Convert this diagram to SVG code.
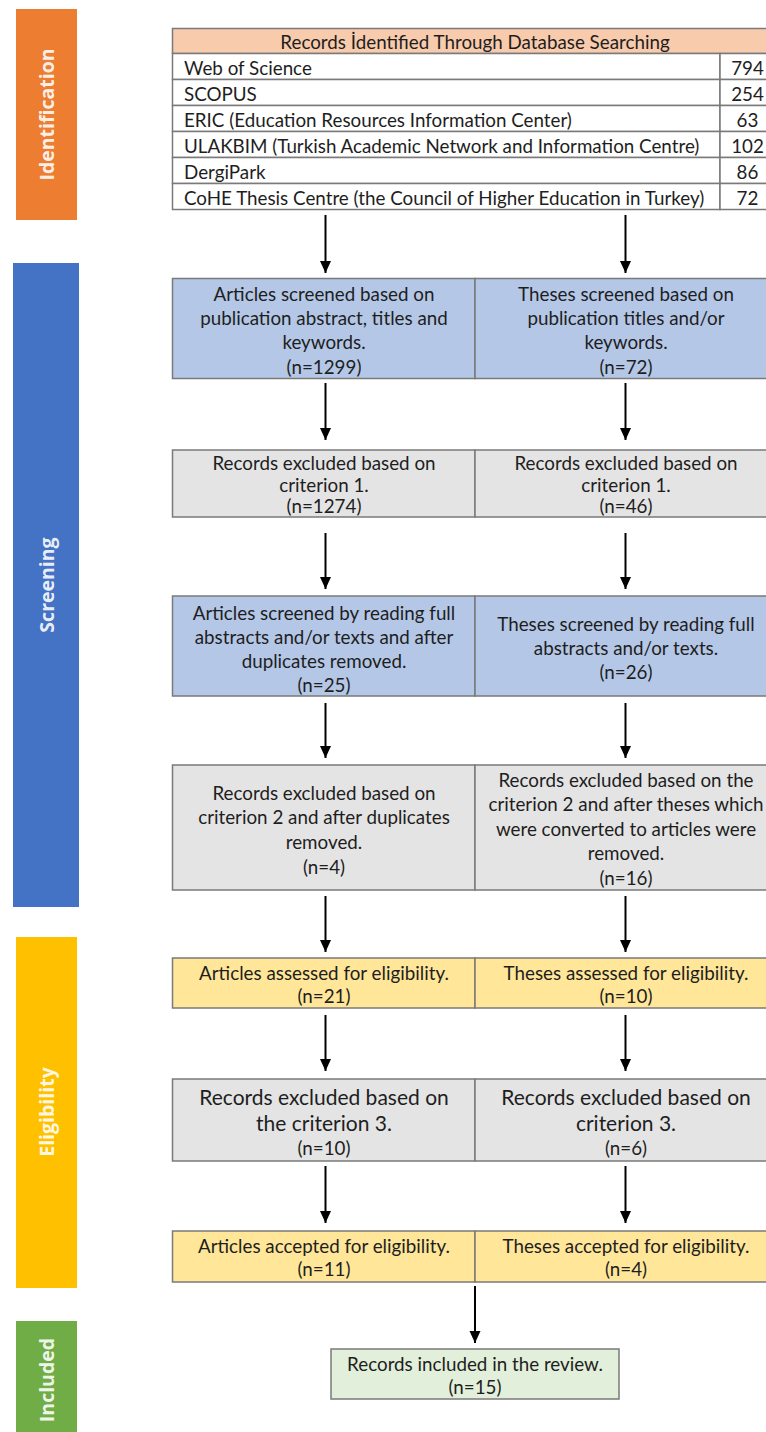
<svg xmlns="http://www.w3.org/2000/svg" width="766" height="1432" viewBox="0 0 766 1432">
<style>
.bar{stroke:none}
.bt{font-family:"Open Sans","Liberation Sans",sans-serif;font-weight:bold;font-size:19.5px;fill:#ffffff;fill-opacity:0.9;text-anchor:middle;dominant-baseline:central}
.cell{stroke:#7a7a7a;stroke-width:1.5}
.blue{fill:#b4c7e7}.gray{fill:#e4e4e4}.yel{fill:#ffe699}.grn{fill:#e2efda}.hdr{fill:#f8cbad}.wht{fill:#ffffff}
.t{font-family:Lato,"Liberation Sans",sans-serif;font-size:18.8px;fill:#1e1e1e;text-anchor:middle;dominant-baseline:central}
.tl{font-family:Lato,"Liberation Sans",sans-serif;font-size:18.8px;fill:#1e1e1e;dominant-baseline:central}
.tc{font-family:Lato,"Liberation Sans",sans-serif;font-size:18.8px;fill:#1e1e1e;text-anchor:middle;dominant-baseline:central}
.big{font-size:21px}
.arr{stroke:#000;stroke-width:2;fill:none;marker-end:url(#ah)}
</style>
<defs>
<marker id="ah" markerUnits="userSpaceOnUse" markerWidth="12" markerHeight="12" refX="12" refY="6" orient="auto">
<path d="M0,0.5 L12,6 L0,11.5 z" fill="#000"/>
</marker>
</defs>

<g id="phase-identification">
<rect class="bar" x="16" y="9" width="61" height="211" fill="#ed7d31"/>
<text class="bt" transform="translate(46.5,114.5) rotate(-90)">Identification</text>
</g>
<g id="phase-screening">
<rect class="bar" x="13" y="263" width="66" height="644" fill="#4472c4"/>
<text class="bt" transform="translate(46,585) rotate(-90)">Screening</text>
</g>
<g id="phase-eligibility">
<rect class="bar" x="16" y="937" width="61" height="351" fill="#ffc000"/>
<text class="bt" transform="translate(46.5,1112) rotate(-90)">Eligibility</text>
</g>
<g id="phase-included">
<rect class="bar" x="16" y="1321" width="61" height="120" fill="#70ad47"/>
<text class="bt" transform="translate(46.5,1380) rotate(-90)">Included</text>
</g>

<g id="records-table">
<rect class="cell hdr" x="172.5" y="28.5" width="606" height="25"/>
<text class="tc" x="475" y="41.5">Records İdentified Through Database Searching</text>
<rect class="cell wht" x="172.5" y="53.5" width="547.5" height="26"/><rect class="cell wht" x="720" y="53.5" width="58.5" height="26"/>
<rect class="cell wht" x="172.5" y="79.5" width="547.5" height="26"/><rect class="cell wht" x="720" y="79.5" width="58.5" height="26"/>
<rect class="cell wht" x="172.5" y="105.5" width="547.5" height="26"/><rect class="cell wht" x="720" y="105.5" width="58.5" height="26"/>
<rect class="cell wht" x="172.5" y="131.5" width="547.5" height="26"/><rect class="cell wht" x="720" y="131.5" width="58.5" height="26"/>
<rect class="cell wht" x="172.5" y="157.5" width="547.5" height="26"/><rect class="cell wht" x="720" y="157.5" width="58.5" height="26"/>
<rect class="cell wht" x="172.5" y="183.5" width="547.5" height="26"/><rect class="cell wht" x="720" y="183.5" width="58.5" height="26"/>
<text class="tl" x="184" y="67">Web of Science</text><text class="tc" x="747.5" y="67">794</text>
<text class="tl" x="184" y="93">SCOPUS</text><text class="tc" x="747.5" y="93">254</text>
<text class="tl" x="184" y="119">ERIC (Education Resources Information Center)</text><text class="tc" x="747.5" y="119">63</text>
<text class="tl" x="184" y="145">ULAKBIM (Turkish Academic Network and Information Centre)</text><text class="tc" x="747.5" y="145">102</text>
<text class="tl" x="184" y="171">DergiPark</text><text class="tc" x="747.5" y="171">86</text>
<text class="tl" x="184" y="197">CoHE Thesis Centre (the Council of Higher Education in Turkey)</text><text class="tc" x="747.5" y="197">72</text>
</g>

<g id="articles-screened-1">
<rect class="cell blue" x="172.5" y="278.5" width="302.5" height="100"/>
<text class="t" x="324" y="293">Articles screened based on</text>
<text class="t" x="324" y="317">publication abstract, titles and</text>
<text class="t" x="324" y="341.5">keywords.</text>
<text class="t" x="324" y="366">(n=1299)</text>
</g>
<g id="theses-screened-1">
<rect class="cell blue" x="475" y="278.5" width="303" height="100"/>
<text class="t" x="626" y="293">Theses screened based on</text>
<text class="t" x="626" y="317">publication titles and/or</text>
<text class="t" x="626" y="341.5">keywords.</text>
<text class="t" x="626" y="366">(n=72)</text>
</g>

<g id="articles-excluded-1">
<rect class="cell gray" x="172.5" y="450" width="302.5" height="67"/>
<text class="t" x="324" y="462.5">Records excluded based on</text>
<text class="t" x="324" y="484">criterion 1.</text>
<text class="t" x="324" y="505.5">(n=1274)</text>
</g>
<g id="theses-excluded-1">
<rect class="cell gray" x="475" y="450" width="303" height="67"/>
<text class="t" x="626" y="462.5">Records excluded based on</text>
<text class="t" x="626" y="484">criterion 1.</text>
<text class="t" x="626" y="505.5">(n=46)</text>
</g>

<g id="articles-screened-2">
<rect class="cell blue" x="172.5" y="596" width="302.5" height="100"/>
<text class="t" x="324" y="612">Articles screened by reading full</text>
<text class="t" x="324" y="636">abstracts and/or texts and after</text>
<text class="t" x="324" y="660">duplicates removed.</text>
<text class="t" x="324" y="684">(n=25)</text>
</g>
<g id="theses-screened-2">
<rect class="cell blue" x="475" y="596" width="303" height="100"/>
<text class="t" x="626" y="623">Theses screened by reading full</text>
<text class="t" x="626" y="647">abstracts and/or texts.</text>
<text class="t" x="626" y="671">(n=26)</text>
</g>

<g id="articles-excluded-2">
<rect class="cell gray" x="172.5" y="765" width="302.5" height="125"/>
<text class="t" x="324" y="792">Records excluded based on</text>
<text class="t" x="324" y="816.5">criterion 2 and after duplicates</text>
<text class="t" x="324" y="841">removed.</text>
<text class="t" x="324" y="866">(n=4)</text>
</g>
<g id="theses-excluded-2">
<rect class="cell gray" x="475" y="765" width="303" height="125"/>
<text class="t" x="626" y="779">Records excluded based on the</text>
<text class="t" x="626" y="803.5">criterion 2 and after theses which</text>
<text class="t" x="626" y="828">were converted to articles were</text>
<text class="t" x="626" y="852.5">removed.</text>
<text class="t" x="626" y="877">(n=16)</text>
</g>

<g id="articles-assessed">
<rect class="cell yel" x="172.5" y="958" width="302.5" height="50"/>
<text class="t" x="324" y="972.5">Articles assessed for eligibility.</text>
<text class="t" x="324" y="995.5">(n=21)</text>
</g>
<g id="theses-assessed">
<rect class="cell yel" x="475" y="958" width="303" height="50"/>
<text class="t" x="626" y="972.5">Theses assessed for eligibility.</text>
<text class="t" x="626" y="995.5">(n=10)</text>
</g>

<g id="articles-excluded-3">
<rect class="cell gray" x="172.5" y="1079" width="302.5" height="82"/>
<text class="t big" x="324" y="1096">Records excluded based on</text>
<text class="t big" x="324" y="1122">the criterion 3.</text>
<text class="t" x="324" y="1147.5">(n=10)</text>
</g>
<g id="theses-excluded-3">
<rect class="cell gray" x="475" y="1079" width="303" height="82"/>
<text class="t big" x="626" y="1096">Records excluded based on</text>
<text class="t big" x="626" y="1122">criterion 3.</text>
<text class="t" x="626" y="1147.5">(n=6)</text>
</g>

<g id="articles-accepted">
<rect class="cell yel" x="172.5" y="1231" width="302.5" height="51"/>
<text class="t" x="324" y="1245">Articles accepted for eligibility.</text>
<text class="t" x="324" y="1268.5">(n=11)</text>
</g>
<g id="theses-accepted">
<rect class="cell yel" x="475" y="1231" width="303" height="51"/>
<text class="t" x="626" y="1245">Theses accepted for eligibility.</text>
<text class="t" x="626" y="1268.5">(n=4)</text>
</g>

<g id="records-included">
<rect class="cell grn" x="331" y="1349" width="288" height="50"/>
<text class="t" x="475" y="1363">Records included in the review.</text>
<text class="t" x="475" y="1386">(n=15)</text>
</g>

<g id="connectors">
<line class="arr" x1="325.5" y1="215" x2="325.5" y2="273"/>
<line class="arr" x1="625.5" y1="215" x2="625.5" y2="273"/>
<line class="arr" x1="325.5" y1="383" x2="325.5" y2="440"/>
<line class="arr" x1="625.5" y1="383" x2="625.5" y2="440"/>
<line class="arr" x1="325.5" y1="533" x2="325.5" y2="589"/>
<line class="arr" x1="625.5" y1="533" x2="625.5" y2="589"/>
<line class="arr" x1="325.5" y1="703" x2="325.5" y2="758"/>
<line class="arr" x1="625.5" y1="703" x2="625.5" y2="758"/>
<line class="arr" x1="325.5" y1="896" x2="325.5" y2="952"/>
<line class="arr" x1="625.5" y1="896" x2="625.5" y2="952"/>
<line class="arr" x1="325.5" y1="1015" x2="325.5" y2="1071"/>
<line class="arr" x1="625.5" y1="1015" x2="625.5" y2="1071"/>
<line class="arr" x1="325.5" y1="1166" x2="325.5" y2="1223"/>
<line class="arr" x1="625.5" y1="1166" x2="625.5" y2="1223"/>
<line class="arr" x1="475" y1="1286" x2="475" y2="1343"/>
</g>
</svg>
